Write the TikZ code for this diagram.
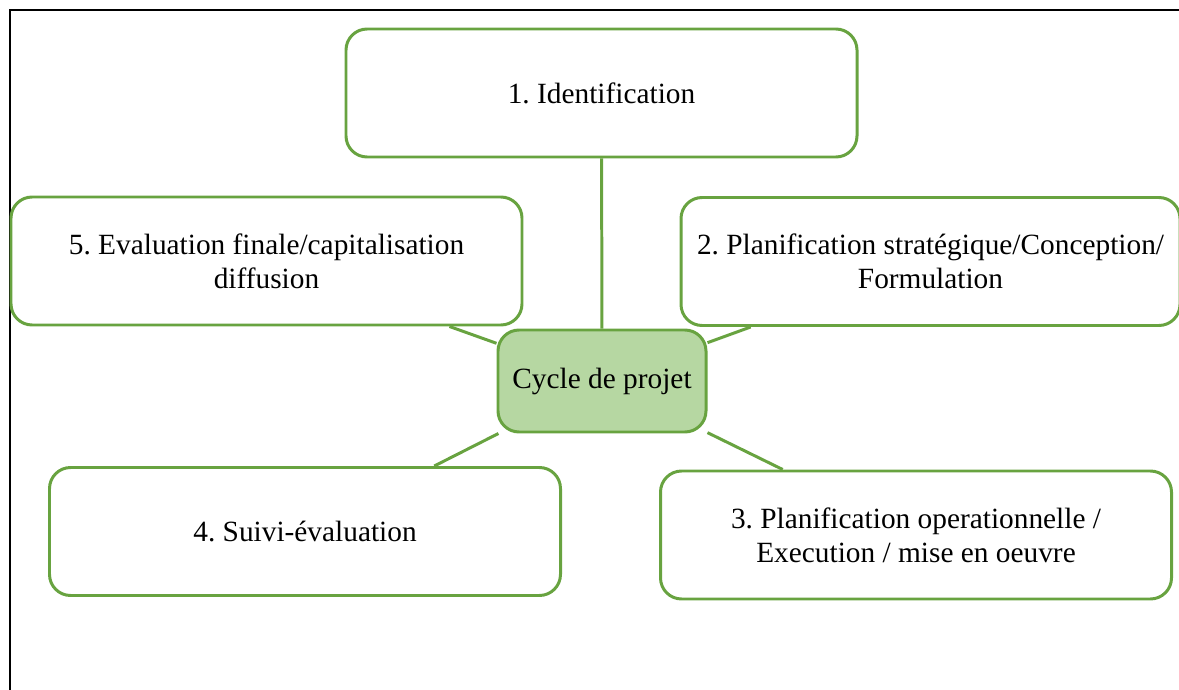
\documentclass[tikz,border=0pt]{standalone}
\usepackage{fontspec}
\setmainfont{Liberation Serif}
\usepackage{xcolor}
\definecolor{boxgreen}{HTML}{68A340}
\definecolor{cyclefill}{HTML}{B6D7A2}
\usetikzlibrary{positioning}
\frenchspacing

\begin{document}
\begin{tikzpicture}[phase/.style={draw=boxgreen, line width=1.7pt, fill=white, align=center,
	rounded corners=12pt, minimum height=2.56cm, minimum width=10.22cm,
	font=\fontsize{16.7}{19.5}\selectfont},
	hub/.style={phase, fill=cyclefill, minimum height=2.04cm, minimum width=4.16cm},
	link/.style={draw=boxgreen, line width=1.7pt}]

	\useasboundingbox (0,0) rectangle (23.58,-13.8);
	\draw [line width=1.2pt] (0.2,-13.8) |- (23.58,-0.2);

	\node [phase] (ident) at (12.03,-1.86) {1. Identification};
	\node [phase] (evalf) at (5.33,-5.22) {5. Evaluation finale/capitalisation\\diffusion};
	\node [phase, minimum width=9.98cm] (planif) at (18.61,-5.23) {2. Planification strat\'egique/Conception/\\Formulation};
	\node [hub] (cycle) at (12.04,-7.62) {Cycle de projet};
	\node [phase] (suivi) at (6.10,-10.63) {4. Suivi-\'evaluation};
	\node [phase] (exec) at (18.32,-10.70) {3. Planification operationnelle /\\Execution / mise en oeuvre};

	\draw [link] (ident) -- (cycle);
	\draw [link] (evalf) -- (cycle);
	\draw [link] (planif) -- (cycle);
	\draw [link] (suivi) -- (cycle);
	\draw [link] (exec) -- (cycle);
\end{tikzpicture}
\end{document}
